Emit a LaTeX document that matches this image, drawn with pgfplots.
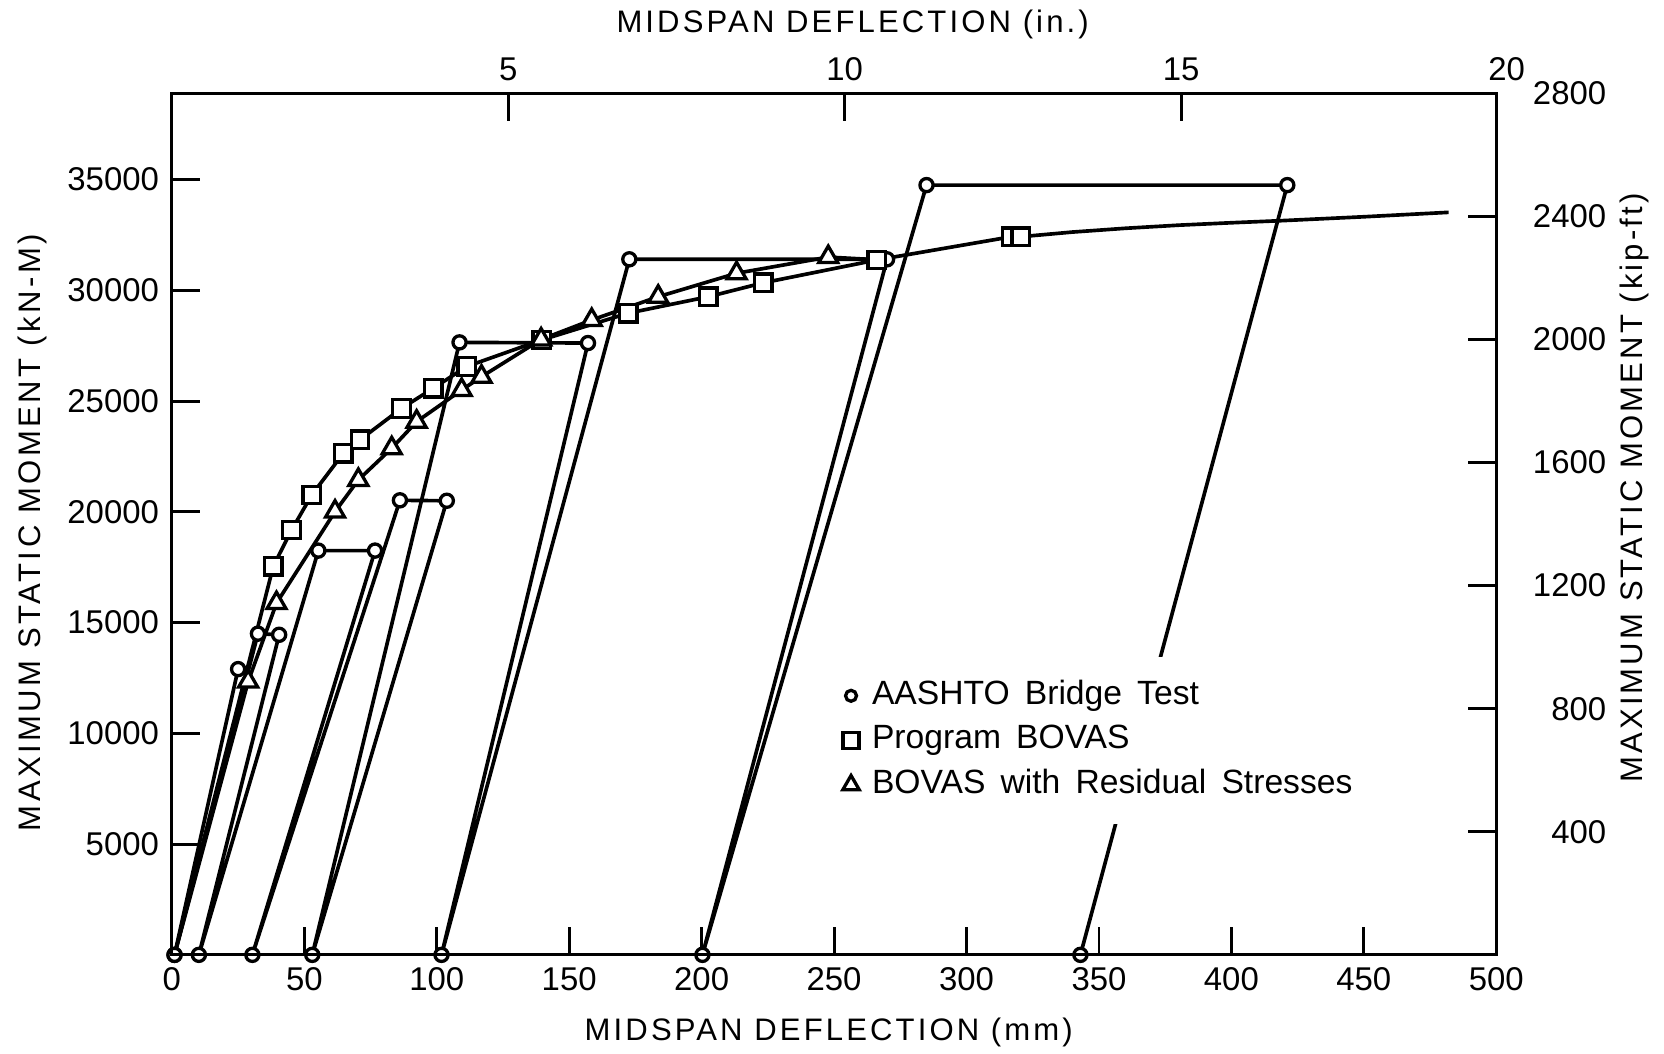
\documentclass[border=0pt]{standalone}
\usepackage{fontspec}
\setmainfont{Liberation Sans}
\newfontfamily\lblfont[LetterSpace=10]{Liberation Sans}
\newfontfamily\lbllfont[LetterSpace=11]{Liberation Sans}
\usepackage{pgfplots}
\pgfplotsset{compat=1.18}

\newcommand{\gap}{\hspace{0.45em}}

\begin{document}
\begin{tikzpicture}
\useasboundingbox (-1.652,-0.949) rectangle (14.342,9.178);
\pgfplotsset{
  every axis/.append style={
    width=12.73cm, height=8.28cm, scale only axis,
    axis line style={line width=0.85pt},
    every tick/.style={line width=0.8pt, black},
    major tick length=0.27cm,
    tick align=inside,
    scaled x ticks=false, scaled y ticks=false,
    tick label style={font=\fontsize{9}{11}\selectfont},
    label style={font=\fontsize{8.5}{10}\lblfont},
  },
}
% main axes: mm and kN-m
\begin{axis}[
  xmin=0, xmax=500, ymin=0, ymax=38890,
  xtick={0,50,...,500},
  xticklabels={0,50,100,150,200,250,300,350,400,450,500},
  ytick={5000,10000,...,35000},
  yticklabels={5000,10000,15000,20000,25000,30000,35000},
  xtick pos=left, ytick pos=left,
  xlabel={MIDSPAN DEFLECTION (mm)},
  ylabel={MAXIMUM STATIC MOMENT (kN-M)},
  xlabel style={at={(axis description cs:0.496,-0.09)}, anchor=center},
  ylabel style={at={(axis description cs:-0.105,0.49)}, anchor=center, font=\fontsize{8.5}{10}\lbllfont},
  clip=false,
  legend cell align=left,
  legend style={at={(axis description cs:0.495,0.347)}, anchor=north west,
    draw=none, fill=white, inner xsep=4pt, inner ysep=5pt,
    font=\fontsize{9.2}{11}\selectfont,
    nodes={inner sep=1.5pt, text height=6.5pt, text depth=1.9pt},
    row sep=0.8pt,
    /tikz/every odd column/.append style={column sep=0.07cm}},
  legend image code/.code={\draw[#1, only marks] plot coordinates {(0.1cm,0cm)};},
]
% AASHTO bridge test: load, hold, unload cycles
\addplot[black, line width=1pt, mark=*, mark size=1.8pt, mark options={fill=white, line width=0.9pt}, forget plot]
coordinates {
(1,0) (25,12900) (1,0) (32.5,14500) (40.5,14450) (10.2,0)
(55.3,18250) (76.7,18250) (30.4,0)
(86.1,20520) (103.8,20500) (53,0)
(108.6,27650) (157.1,27620) (101.8,0)
(172.7,31400) (270,31400) (200.3,0)
(284.9,34750) (421.1,34750) (343,0)
};
% Program BOVAS
\addplot[black, line width=1pt, mark=square*, mark size=2.4pt, mark options={fill=white, line width=0.9pt},
  mark indices={2,3,4,5,6,7,8,9,10,11,12,13,14,15,16}, forget plot]
coordinates {
(1,0) (38.3,17550) (45.2,19180) (52.8,20760) (64.7,22640) (71.0,23250)
(86.7,24670) (98.7,25580) (111.3,26560) (139.6,27760) (172.3,28970)
(202.5,29710) (223.3,30340) (266.1,31370) (317,32420) (320.5,32420)
};
\addplot[black, line width=1pt, no marks, forget plot]
coordinates {
(320.5,32420) (340,32630) (360,32800) (380,32940) (400,33050)
(420,33150) (450,33320) (482,33520)
};
% BOVAS with residual stresses
\addplot[black, line width=1pt, mark=triangle*, mark size=3pt, mark options={fill=white, line width=0.9pt},
  mark indices={2,3,4,5,6,7,8,9,10,11,12,13,14}, forget plot]
coordinates {
(1,0) (28.8,12340) (39.5,15880) (61.6,20010) (70.4,21440) (83.0,22870)
(92.4,24070) (109.4,25500) (116.9,26100) (139.4,27780) (158.5,28660)
(183.6,29710) (213.2,30770) (247.8,31500) (266.1,31380)
};
\addlegendimage{black, mark=*, mark size=1.5pt, mark options={fill=white, line width=0.9pt}}
\addlegendentry{AASHTO\gap Bridge\gap Test}
\addlegendimage{black, mark=square*, mark size=2.2pt, mark options={fill=white, line width=0.9pt}}
\addlegendentry{Program\gap BOVAS}
\addlegendimage{black, mark=triangle*, mark size=2.6pt, mark options={fill=white, line width=0.9pt}}
\addlegendentry{BOVAS\gap with\gap Residual\gap Stresses}
\end{axis}
% secondary axes: inches and kip-ft
\begin{axis}[
  xmin=0, xmax=19.685, ymin=0, ymax=2800,
  xtick={5,10,15}, xticklabels={5,10,15},
  ytick={400,800,...,2800},
  yticklabels={400,800,1200,1600,2000,2400,2800},
  xtick pos=right, ytick pos=right,
  xticklabel pos=right, yticklabel pos=right,
  yticklabel style={anchor=east, xshift=1.18cm},
  xlabel={MIDSPAN DEFLECTION (in.)},
  ylabel={MAXIMUM STATIC MOMENT (kip-ft)},
  xlabel style={at={(axis description cs:0.514,1.080)}, anchor=center},
  ylabel style={at={(axis description cs:1.104,0.542)}, anchor=center, rotate=0},
  clip=false,
]
\node[anchor=south, xshift=0.1cm, font=\fontsize{9}{11}\selectfont] at (rel axis cs:1,1) {20};
\end{axis}
\end{tikzpicture}
\end{document}
